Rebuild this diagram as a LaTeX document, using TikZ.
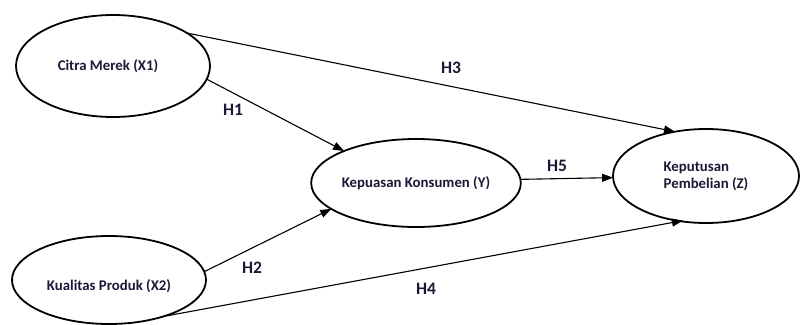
\documentclass[tikz,border=0pt]{standalone}
\usepackage{fontspec}
\setmainfont{Carlito}[BoldFont={Carlito Bold}]
\usetikzlibrary{shapes.geometric,arrows.meta}
\definecolor{ink}{RGB}{25,25,55}
\tikzset{
  ellfont/.style={font=\bfseries\fontsize{14.8}{17}\selectfont, text=ink},
  ell/.style={ellipse, draw=black, line width=1.8pt, inner sep=0pt, outer sep=0pt, ellfont},
  conn/.style={draw=black, line width=1.1pt, -{Triangle[length=11pt,width=8pt]}},
  hyp/.style={font=\bfseries\fontsize{17.5}{19}\selectfont, text=ink}
}
\begin{document}
\begin{tikzpicture}[x=1pt,y=-1pt]
\useasboundingbox (0,0) rectangle (800,324);
\begin{scope}
\clip (0,0) rectangle (800,324);
\node[ell, minimum width=194pt, minimum height=102pt] (X1) at (113,66) {\hspace*{-10pt}Citra Merek (X1)};
\node[ell, minimum width=194pt, minimum height=88pt,
      label={[ellfont, yshift=-6pt]center:Kualitas Produk (X2)}] (X2) at (109,280) {};
\node[ell, minimum width=208pt, minimum height=88pt] (Y) at (416,183) {Kepuasan Konsumen (Y)};
\node[ell, minimum width=186pt, minimum height=94pt, align=left] (Z) at (706,176) {Keputusan\\Pembelian (Z)};

\draw[conn] (X1.-8) -- (Y.156);
\draw[conn] (X1.24) -- (Z.125);
\draw[conn] (X2.5) -- (Y.197);
\draw[conn, shorten >=-3pt] (X2.-34) -- (Z.240);
\draw[conn] (Y.2) -- (Z.181);
\end{scope}

\node[hyp] (h1) at (233,110) {H1};
\node[hyp] (h2) at (252,268) {H2};
\node[hyp] (h3) at (451,68) {H3};
\node[hyp] (h4) at (426,289) {H4};
\node[hyp] (h5) at (557,166) {H5};
\end{tikzpicture}
\end{document}
